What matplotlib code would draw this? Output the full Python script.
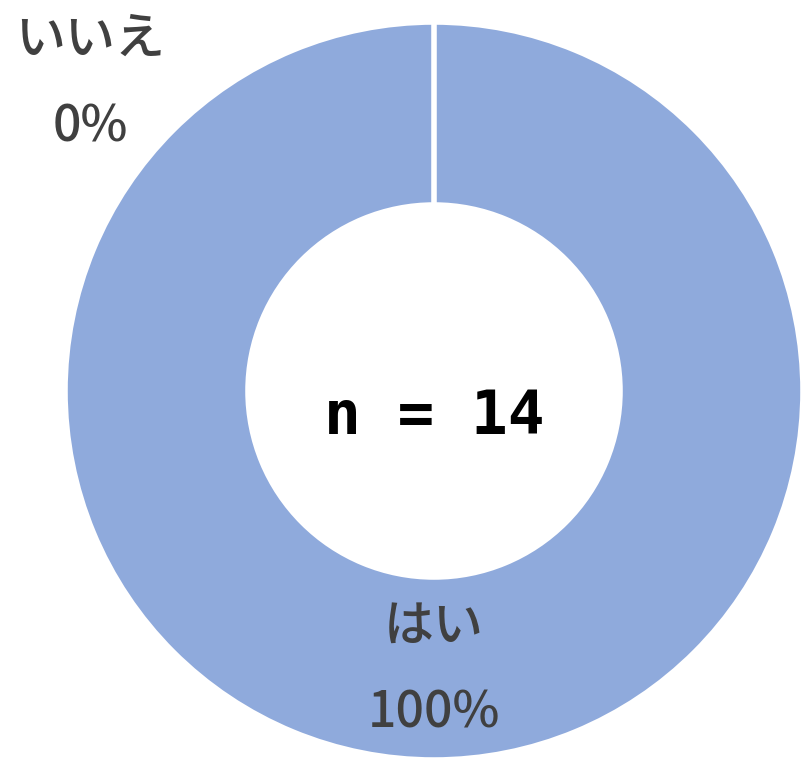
import matplotlib
matplotlib.use("Agg")
import matplotlib.pyplot as plt

plt.rcParams["font.family"] = ["Noto Sans CJK JP", "DejaVu Sans"]

categories = ["いいえ", "はい"]
counts = [0, 14]
percent_labels = ["0%", "100%"]
total_label = "n = 14"

W, H = 805, 759
fig = plt.figure(figsize=(W / 100, H / 100), dpi=100)
ax = fig.add_axes([0, 0, 1, 1])

cx, cy = 434, H - 391
radius = 369
inner = 186
ax.pie(
    counts,
    center=(cx, cy),
    radius=radius,
    startangle=90,
    counterclock=False,
    colors=["#8FAADC", "#8FAADC"],
    wedgeprops=dict(width=radius - inner, edgecolor="white", linewidth=4),
)
# white separator where the zero slice sits
ax.plot([cx, cx], [cy + inner - 2, cy + radius + 2], color="white", lw=4,
        solid_capstyle="butt")
ax.set_xlim(0, W)
ax.set_ylim(0, H)
ax.set_aspect("equal")
ax.axis("off")

label_color = "#404040"
fs = 36
# いいえ label
ax.text(90, H - 40, categories[0], ha="center", va="center", fontsize=fs,
        fontweight="medium", color=label_color)
ax.text(90, H - 128, percent_labels[0], ha="center", va="center", fontsize=fs,
        fontweight="medium", color=label_color)
# はい label
ax.text(434, H - 627, categories[1], ha="center", va="center", fontsize=fs,
        fontweight="medium", color=label_color)
ax.text(434, H - 713, percent_labels[1], ha="center", va="center", fontsize=fs,
        fontweight="medium", color=label_color)

ax.text(cx, H - 417, total_label, ha="center", va="center", fontsize=44,
        fontweight="bold", color="black", family="DejaVu Sans Mono")

fig.savefig("out.png", dpi=100)
